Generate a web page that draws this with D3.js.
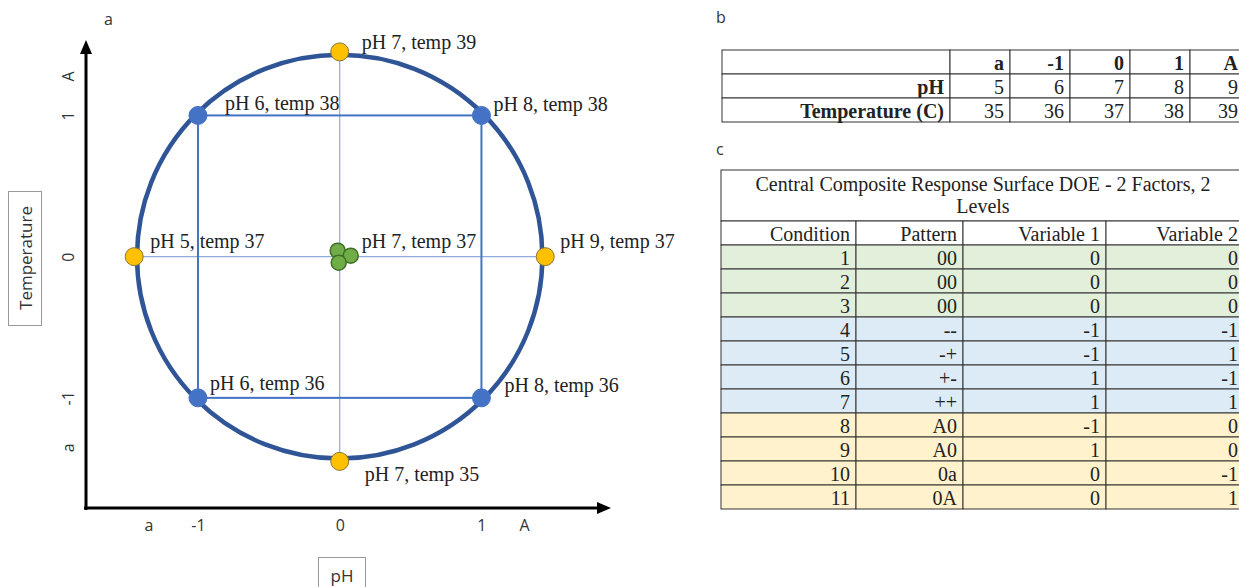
<!DOCTYPE html>
<html>
<head>
<meta charset="utf-8">
<script src="https://cdn.jsdelivr.net/npm/d3@7"></script>
<style>
  html, body { margin: 0; padding: 0; background: #fff; overflow: hidden; }
  svg { display: block; }
</style>
</head>
<body>
<div id="chart"></div>
<script>
// coded factor levels and the real values they stand for
var codedLevels = ["a", "-1", "0", "1", "A"];
var phValues = [5, 6, 7, 8, 9];
var tempValues = [35, 36, 37, 38, 39];

// axial distance (in coded units)
var axialDistance = 1.45;
var circleRadius = 1.43;

// design points of panel a: [pH level, temp level, kind]
var designPoints = [
  ["0", "A", "axial"],
  ["-1", "1", "factorial"],
  ["1", "1", "factorial"],
  ["a", "0", "axial"],
  ["A", "0", "axial"],
  ["-1", "-1", "factorial"],
  ["1", "-1", "factorial"],
  ["0", "a", "axial"],
  ["0", "0", "center"]
];
var centerReplicates = 3;

// axis tick labels
var xTickValues = [-1.35, -1, 0, 1, 1.3];
var xTickLabels = ["a", "-1", "0", "1", "A"];
var yTickValues = [-1.35, -1, 0, 1, 1.28];
var yTickLabels = ["a", "-1", "0", "1", "A"];

// table c
var conditions = [1, 2, 3, 4, 5, 6, 7, 8, 9, 10, 11];
var patterns = ["00", "00", "00", "--", "-+", "+-", "++", "A0", "A0", "0a", "0A"];
var variable1 = [0, 0, 0, -1, -1, 1, 1, -1, 1, 0, 0];
var variable2 = [0, 0, 0, -1, 1, -1, 1, 0, 0, -1, 1];
var rowGroups = ["center", "center", "center", "factorial", "factorial", "factorial", "factorial",
                 "axial", "axial", "axial", "axial"];
var tableTitle = ["Central Composite Response Surface DOE - 2 Factors, 2", "Levels"];
var tableHeader = ["Condition", "Pattern", "Variable 1", "Variable 2"];

var width = 1239, height = 587;
var serif = "'Liberation Serif', 'Times New Roman', serif";
var sans = "'Open Sans', 'Liberation Sans', sans-serif";

var svg = d3.select("#chart").append("svg")
    .attr("width", width)
    .attr("height", height);

// ---------- panel a ----------
var x = d3.scaleLinear().domain([-1.79, 1.9]).range([86, 609]);
var y = d3.scaleLinear().domain([-1.78, 1.52]).range([508, 42]);

function coded(level) {
  if (level === "a") return -axialDistance;
  if (level === "A") return axialDistance;
  return +level;
}

var fills = { axial: "#FFC000", factorial: "#4472C4", center: "#70AD47" };
var strokes = { axial: "#8a7636", factorial: "#4472C4", center: "#3f6f28" };

svg.append("text").attr("x", 104).attr("y", 25)
    .style("font", "16px " + sans).attr("fill", "#333").text("a");

var pa = svg.append("g");

// axis arrows
pa.append("line").attr("x1", 86).attr("y1", 510).attr("x2", 86).attr("y2", 52)
    .attr("stroke", "#000").attr("stroke-width", 3);
pa.append("path").attr("d", "M86,40 L80,54 L92,54 Z").attr("fill", "#000");
pa.append("line").attr("x1", 84).attr("y1", 508).attr("x2", 598).attr("y2", 508)
    .attr("stroke", "#000").attr("stroke-width", 3);
pa.append("path").attr("d", "M611,508 L597,502 L597,514 Z").attr("fill", "#000");

var xAxis = pa.append("g").attr("transform", "translate(0,508)")
    .call(d3.axisBottom(x).tickValues(xTickValues)
      .tickFormat(function(d, i) { return xTickLabels[i]; })
      .tickSize(0).tickPadding(12));
xAxis.select(".domain").remove();
xAxis.selectAll("text").style("font", "16px " + sans).attr("fill", "#333");

var yAxis = pa.append("g").attr("transform", "translate(86,0)")
    .call(d3.axisLeft(y).tickValues(yTickValues)
      .tickFormat(function(d, i) { return yTickLabels[i]; })
      .tickSize(0));
yAxis.select(".domain").remove();
yAxis.selectAll("text")
    .attr("x", 0).attr("dy", null)
    .attr("text-anchor", "middle")
    .attr("dominant-baseline", "central")
    .attr("transform", "translate(-18,0) rotate(-90)")
    .style("font", "16px " + sans).attr("fill", "#333");

// axis title boxes
pa.append("rect").attr("x", 8.5).attr("y", 191.5).attr("width", 33).attr("height", 134)
    .attr("fill", "#fff").attr("stroke", "#999");
pa.append("text").attr("transform", "translate(25,258) rotate(-90)")
    .attr("text-anchor", "middle").attr("dominant-baseline", "central")
    .style("font", "17px " + sans).attr("fill", "#333").text("Temperature");
pa.append("rect").attr("x", 318.5).attr("y", 557.5).attr("width", 47).attr("height", 40)
    .attr("fill", "#fff").attr("stroke", "#999");
pa.append("text").attr("x", 342).attr("y", 575)
    .attr("text-anchor", "middle").attr("dominant-baseline", "central")
    .style("font", "17px " + sans).attr("fill", "#333").text("pH");

// thin cross through the centre point
pa.append("line")
    .attr("x1", x(-axialDistance)).attr("x2", x(axialDistance))
    .attr("y1", y(0)).attr("y2", y(0))
    .attr("stroke", "#8faadc").attr("stroke-width", 1.2);
pa.append("line")
    .attr("x1", x(0)).attr("x2", x(0))
    .attr("y1", y(axialDistance)).attr("y2", y(-axialDistance))
    .attr("stroke", "#8faadc").attr("stroke-width", 1.2);

// factorial square
pa.append("rect")
    .attr("x", x(-1)).attr("y", y(1))
    .attr("width", x(1) - x(-1)).attr("height", y(-1) - y(1))
    .attr("fill", "none").attr("stroke", "#4472C4").attr("stroke-width", 2);

// circle through the design
pa.append("ellipse")
    .attr("cx", x(0)).attr("cy", y(0))
    .attr("rx", x(circleRadius) - x(0)).attr("ry", y(0) - y(circleRadius))
    .attr("fill", "none").attr("stroke", "#2F5597").attr("stroke-width", 4.5);

// expand the centre point into its replicates
var jitter = [[-2, -6], [11, -1], [-1, 6]];
var dots = [];
designPoints.forEach(function(p) {
  if (p[2] === "center") {
    for (var i = 0; i < centerReplicates; i++) {
      dots.push({ px: coded(p[0]), py: coded(p[1]), kind: p[2], jx: jitter[i][0], jy: jitter[i][1] });
    }
  } else {
    dots.push({ px: coded(p[0]), py: coded(p[1]), kind: p[2], jx: 0, jy: 0 });
  }
});

pa.selectAll("circle.dot").data(dots).enter().append("circle")
    .attr("class", "dot")
    .attr("cx", function(d) { return x(d.px) + d.jx; })
    .attr("cy", function(d) { return y(d.py) + d.jy; })
    .attr("r", function(d) { return d.kind === "center" ? 7.5 : 9; })
    .attr("fill", function(d) { return fills[d.kind]; })
    .attr("stroke", function(d) { return strokes[d.kind]; })
    .attr("stroke-width", function(d) { return d.kind === "center" ? 1.5 : 1; });

// label offsets (px) for each design point, same order as designPoints
var labelOffsets = [[22, -10], [27, -12], [12, -11], [16, -16], [15, -16],
                    [12, -15], [23, -13], [25, 13], [22, -16]];

pa.selectAll("text.plabel").data(designPoints).enter().append("text")
    .attr("class", "plabel")
    .attr("x", function(d, i) { return x(coded(d[0])) + labelOffsets[i][0]; })
    .attr("y", function(d, i) { return y(coded(d[1])) + labelOffsets[i][1]; })
    .attr("dominant-baseline", "central")
    .style("font", "20px " + serif).attr("fill", "#222")
    .text(function(d) {
      return "pH " + phValues[codedLevels.indexOf(d[0])] + ", temp " + tempValues[codedLevels.indexOf(d[1])];
    });

// ---------- panel b ----------
svg.append("text").attr("x", 716).attr("y", 23)
    .style("font", "16px " + sans).attr("fill", "#333").text("b");

var pb = svg.append("g");
var bCols = [722, 950, 1010, 1070, 1130, 1190, 1244];
var bTop = 50, bRow = 24;
var bRows = [
  { cells: [""].concat(codedLevels), bold: [true, true, true, true, true, true] },
  { cells: ["pH"].concat(phValues), bold: [true, false, false, false, false, false] },
  { cells: ["Temperature (C)"].concat(tempValues), bold: [true, false, false, false, false, false] }
];

bRows.forEach(function(row, r) {
  row.cells.forEach(function(c, j) {
    pb.append("rect")
        .attr("x", bCols[j]).attr("y", bTop + r * bRow)
        .attr("width", bCols[j + 1] - bCols[j]).attr("height", bRow)
        .attr("fill", "#fff").attr("stroke", "#333").attr("stroke-width", 1);
    pb.append("text")
        .attr("x", bCols[j + 1] - 6).attr("y", bTop + r * bRow + bRow / 2 + 1)
        .attr("text-anchor", "end").attr("dominant-baseline", "central")
        .style("font", (row.bold[j] ? "bold " : "") + "20px " + serif)
        .attr("fill", "#222").text(c);
  });
});

// ---------- panel c ----------
svg.append("text").attr("x", 716).attr("y", 155)
    .style("font", "16px " + sans).attr("fill", "#333").text("c");

var pc = svg.append("g");
var cCols = [721, 856, 963, 1106, 1244];
var cTop = 170, titleH = 51, cRow = 24;
var rowFill = { center: "#E2EFDA", factorial: "#DDEBF7", axial: "#FFF2CC" };

pc.append("rect").attr("x", cCols[0]).attr("y", cTop)
    .attr("width", cCols[4] - cCols[0]).attr("height", titleH)
    .attr("fill", "#fff").attr("stroke", "#333");
pc.selectAll("text.title").data(tableTitle).enter().append("text")
    .attr("class", "title")
    .attr("x", 983)
    .attr("y", function(d, i) { return cTop + 14 + i * 22; })
    .attr("text-anchor", "middle").attr("dominant-baseline", "central")
    .style("font", "20px " + serif).attr("fill", "#222").text(function(d) { return d; });

var cData = [{ cells: tableHeader, fill: "#fff" }].concat(conditions.map(function(c, i) {
  return { cells: [c, patterns[i], variable1[i], variable2[i]], fill: rowFill[rowGroups[i]] };
}));

cData.forEach(function(row, r) {
  var ry = cTop + titleH + r * cRow;
  row.cells.forEach(function(c, j) {
    pc.append("rect")
        .attr("x", cCols[j]).attr("y", ry)
        .attr("width", cCols[j + 1] - cCols[j]).attr("height", cRow)
        .attr("fill", row.fill).attr("stroke", "#333").attr("stroke-width", 1);
    pc.append("text")
        .attr("x", cCols[j + 1] - 6).attr("y", ry + cRow / 2 + 1)
        .attr("text-anchor", "end").attr("dominant-baseline", "central")
        .style("font", "20px " + serif).attr("fill", "#222").text(c);
  });
});
</script>
</body>
</html>
